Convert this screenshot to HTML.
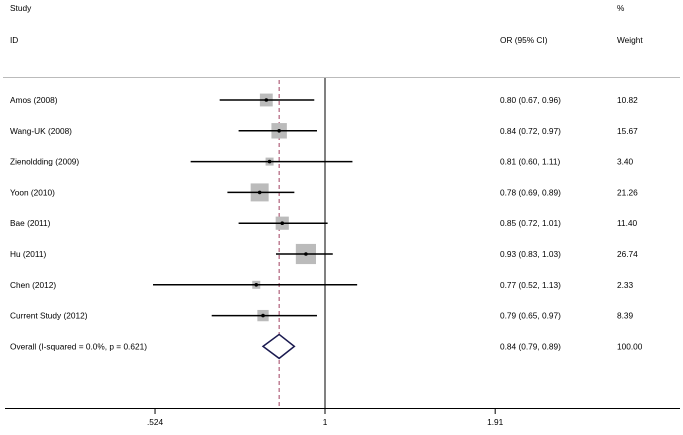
<!DOCTYPE html>
<html><head><meta charset="utf-8"><style>
body{margin:0;background:#fff;}
svg text{font-family:"Liberation Sans",sans-serif;font-size:8.3px;fill:#000;}
</style></head><body>
<svg id="plot" width="683" height="430" viewBox="0 0 683 430">
<text x="10" y="11">Study</text>
<text x="10" y="43">ID</text>
<text x="500" y="43">OR (95% CI)</text>
<text x="617" y="11">%</text>
<text x="617" y="43">Weight</text>
<line x1="3" y1="77.5" x2="680" y2="77.5" stroke="#bbb"/>
<g id="marks"></g>
</svg>
<script>
const studies=["Amos  (2008)","Wang-UK (2008)","Zienoldding (2009)","Yoon (2010)","Bae (2011)","Hu (2011)","Chen (2012)","Current Study (2012)"];
const orVals=[0.80,0.84,0.81,0.78,0.85,0.93,0.77,0.79];
const lowerCI=[0.67,0.72,0.60,0.69,0.72,0.83,0.52,0.65];
const upperCI=[0.96,0.97,1.11,0.89,1.01,1.03,1.13,0.97];
const weights=[10.82,15.67,3.40,21.26,11.40,26.74,2.33,8.39];
const overall={label:"Overall  (I-squared = 0.0%, p = 0.621)",or:0.84,lo:0.79,hi:0.89,w:"100.00"};
const ticks=[0.524,1,1.91];
const tickLabels=[".524","1","1.91"];
const NS="http://www.w3.org/2000/svg";
const g=document.getElementById('marks');
const xs=v=>325+263*Math.log(v);
const ys=i=>100+30.8*i;
function mk(t,a,p){const e=document.createElementNS(NS,t);for(const k in a)e.setAttribute(k,a[k]);(p||g).appendChild(e);return e;}
let ax=mk('line',{x1:5,y1:408.5,x2:680,y2:408.5,stroke:'#000'});


ticks.forEach((t,i)=>{
 let l=mk('line',{x1:xs(t),y1:408,x2:xs(t),y2:414,stroke:'#000'});
 
 
 let tx=mk('text',{x:xs(t),y:425,'text-anchor':'middle'});tx.textContent=tickLabels[i];
 
 
});
let nl=mk('line',{x1:xs(1),y1:78,x2:xs(1),y2:408,stroke:'#000'});


let dl=mk('line',{x1:xs(overall.or),y1:80,x2:xs(overall.or),y2:408,stroke:'#a04060','stroke-dasharray':'4,3'});


studies.forEach((s,i)=>{
 const y=ys(i);
 let lb=mk('text',{x:10,y:y+3});lb.textContent=s;
 
 
 const sz=Math.max(8,3.9*Math.sqrt(weights[i]));
 let b=mk('rect',{x:xs(orVals[i])-sz/2,y:y-sz/2,width:sz,height:sz,fill:'#bbb'});
 
 
 let ci=mk('line',{x1:xs(lowerCI[i]),y1:y,x2:xs(upperCI[i]),y2:y,stroke:'#000','stroke-width':1.5});
 
 
 let d=mk('circle',{cx:xs(orVals[i]),cy:y,r:1.8,fill:'#000'});
 
 
 let v=mk('text',{x:500,y:y+3});v.textContent=orVals[i].toFixed(2)+" ("+lowerCI[i].toFixed(2)+", "+upperCI[i].toFixed(2)+")";
 
 
 let w=mk('text',{x:617,y:y+3});w.textContent=weights[i].toFixed(2);
 
 
});
const oy=ys(8);
let ol=mk('text',{x:10,y:oy+3});ol.textContent=overall.label;


let dm=mk('polygon',{points:`${xs(overall.lo)},${oy} ${xs(overall.or)},${oy-12} ${xs(overall.hi)},${oy} ${xs(overall.or)},${oy+12}`,fill:'#fff',stroke:'#1a1a50','stroke-width':1.5});


let ov=mk('text',{x:500,y:oy+3});ov.textContent=overall.or.toFixed(2)+" ("+overall.lo.toFixed(2)+", "+overall.hi.toFixed(2)+")";


let ow=mk('text',{x:617,y:oy+3});ow.textContent=overall.w;


</script>
</body></html>
